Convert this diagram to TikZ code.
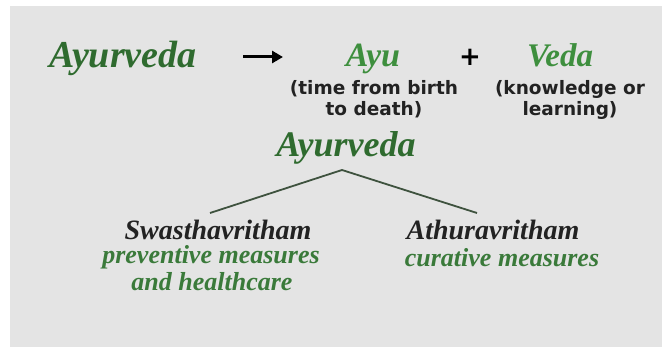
\documentclass[tikz,border=0pt]{standalone}
\usepackage{fontspec}
\setmainfont{Liberation Serif}
\newfontfamily\labfont{DejaVu Sans}
\usetikzlibrary{arrows.meta}
\definecolor{bggray}{HTML}{E4E4E4}
\definecolor{darkgreen}{HTML}{2F6B2F}
\definecolor{midgreen}{HTML}{3E8F3E}
\definecolor{txtgreen}{HTML}{3A7A3A}
\definecolor{linecol}{HTML}{3E523E}
\definecolor{txtblack}{HTML}{222222}
\begin{document}
\begin{tikzpicture}[x=1pt,y=-1pt,
  callig/.style={font=\bfseries\itshape\fontsize{#1}{#1}\selectfont, inner sep=0pt, anchor=base, text height=0.7em, text depth=0.12em},
  lab/.style={font=\labfont\bfseries\fontsize{18.5}{18.5}\selectfont, text=txtblack, inner sep=0pt, anchor=base},
  branch/.style={draw=linecol, line width=1.8pt},
  arr/.style={draw=black, line width=3pt, -{Triangle[length=11pt,width=12pt]}}]
\useasboundingbox (0,0) rectangle (662,347);
\fill[white] (0,0) rectangle (662,347);
\fill[bggray] (10,6) rectangle (662,347);
% top row
\node[callig=38, text=darkgreen] (ayurtop) at (123,68) {Ayurveda};
\coordinate (a1) at (243,57);
\coordinate (a2) at (283,57);
\draw[arr] (a1) -- (a2);
\node[callig=34, text=midgreen] (ayu) at (373,67) {Ayu};
\node[font=\labfont\bfseries\fontsize{26}{26}\selectfont, inner sep=0pt] (plus) at (470,57) {+};
\node[callig=33, text=midgreen] (veda) at (560,67) {Veda};
\node[lab] (ayu1) at (374,95) {(time from birth};
\node[lab] (ayu2) at (374,116) {to death)};
\node[lab] (veda1) at (570,95) {(knowledge or};
\node[lab] (veda2) at (570,116) {learning)};
% middle
\node[callig=36, text=darkgreen] (ayurmid) at (346,157) {Ayurveda};
\coordinate (apex) at (342,170);
\coordinate (lend) at (210,213);
\coordinate (rend) at (477,213);
\draw[branch] (lend) -- (apex) -- (rend);
% branches
\node[callig=28, text=txtblack] (swas) at (218,240) {Swasthavritham};
\node[callig=26, text=txtgreen] (prev1) at (211,264) {preventive measures};
\node[callig=26, text=txtgreen] (prev2) at (212,291) {and healthcare};
\node[callig=28, text=txtblack] (athu) at (493,240) {Athuravritham};
\node[callig=26, text=txtgreen] (cur) at (502,267) {curative measures};
\end{tikzpicture}
\end{document}
